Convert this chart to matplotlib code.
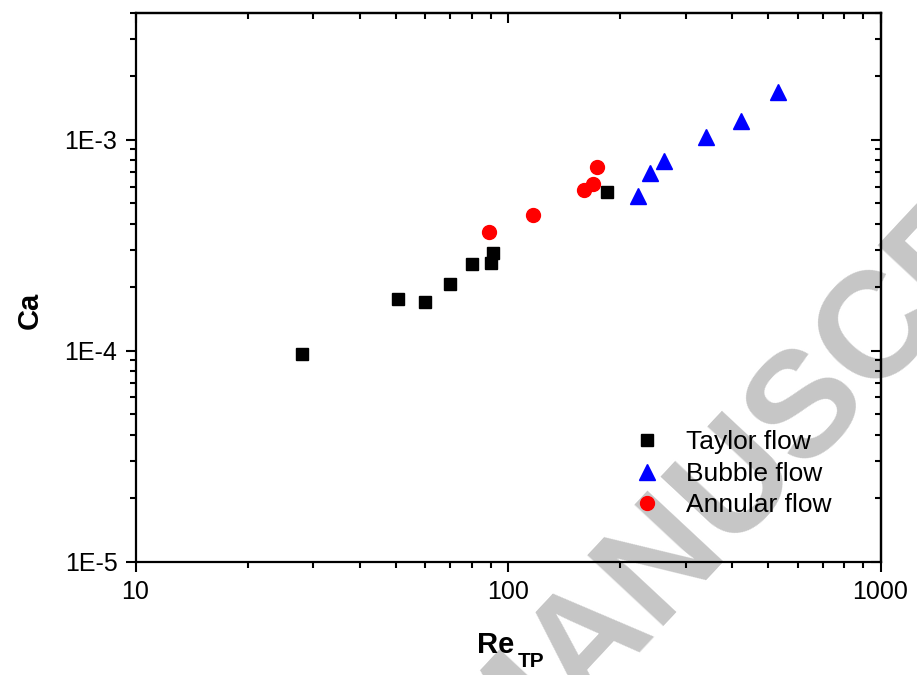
"""Ca vs Re_TP, flow regimes on log-log axes."""

import matplotlib

matplotlib.use("Agg")
import matplotlib.pyplot as plt
from matplotlib.ticker import FixedLocator, FixedFormatter, LogLocator, NullFormatter

plt.rcParams["font.family"] = ["Liberation Sans", "DejaVu Sans"]

# data
taylor_re = [27.9, 50.8, 59.8, 69.7, 79.9, 89.9, 91.0, 184.9]
taylor_ca = [9.6e-5, 1.75e-4, 1.70e-4, 2.08e-4, 2.57e-4, 2.61e-4, 2.90e-4, 5.65e-4]

bubble_re = [223, 241, 262, 340, 423, 532]
bubble_ca = [5.42e-4, 6.95e-4, 7.94e-4, 1.03e-3, 1.23e-3, 1.68e-3]

annular_re = [88.7, 117, 159.6, 169, 173.8]
annular_ca = [3.66e-4, 4.38e-4, 5.79e-4, 6.16e-4, 7.41e-4]

x_ticks = [10, 100, 1000]
x_tick_labels = ["10", "100", "1000"]
y_ticks = [1e-5, 1e-4, 1e-3]
y_tick_labels = ["1E-5", "1E-4", "1E-3"]

fig = plt.figure(figsize=(9.17, 6.75), dpi=100)
ax = fig.add_axes([0.1478, 0.1681, 0.8124, 0.8130])
ax.set_facecolor("none")

# watermark behind everything
fig.text(0.5613, -0.0785, "ACCEPTED MANUSCRIPT", fontsize=108, fontweight="bold",
         color="#c6c6c6", rotation=47, rotation_mode="anchor",
         ha="center", va="center", zorder=-1)

ax.plot(taylor_re, taylor_ca, ls="none", marker="s", ms=8.8, color="black",
        mec="black", label="Taylor flow")
ax.plot(bubble_re, bubble_ca, ls="none", marker="^", ms=11, color="blue",
        mec="blue", label="Bubble flow")
ax.plot(annular_re, annular_ca, ls="none", marker="o", ms=10, color="red",
        mec="red", label="Annular flow")

ax.set_xscale("log")
ax.set_yscale("log")
ax.set_xlim(10, 1000)
ax.set_ylim(1e-5, 4e-3)

ax.xaxis.set_major_locator(FixedLocator(x_ticks))
ax.xaxis.set_major_formatter(FixedFormatter(x_tick_labels))
ax.yaxis.set_major_locator(FixedLocator(y_ticks))
ax.yaxis.set_major_formatter(FixedFormatter(y_tick_labels))
for axis in (ax.xaxis, ax.yaxis):
    axis.set_minor_locator(LogLocator(base=10, subs=range(2, 10)))
    axis.set_minor_formatter(NullFormatter())

for sp in ax.spines.values():
    sp.set_linewidth(1.6)

ax.tick_params(which="major", direction="out", length=7, width=1.5,
               labelsize=18, pad=6)
ax.tick_params(which="minor", direction="out", length=4, width=1.5)

# mirrored ticks on top/right point inward
top = ax.secondary_xaxis("top")
top.xaxis.set_major_locator(FixedLocator(x_ticks))
top.xaxis.set_minor_locator(LogLocator(base=10, subs=range(2, 10)))
top.tick_params(which="both", direction="in", labeltop=False, width=1.5)
top.tick_params(which="major", length=7)
top.tick_params(which="minor", length=4)
top.spines["top"].set_linewidth(1.6)

right = ax.secondary_yaxis("right")
right.yaxis.set_major_locator(FixedLocator(y_ticks))
right.yaxis.set_minor_locator(LogLocator(base=10, subs=range(2, 10)))
right.tick_params(which="both", direction="in", labelright=False, width=1.5)
right.tick_params(which="major", length=7)
right.tick_params(which="minor", length=4)
right.spines["right"].set_linewidth(1.6)

# x label: "Re" with a bold subscript "TP"
fig.text(0.520, 0.0326, "Re", fontsize=21, fontweight="bold",
         ha="left", va="baseline")
fig.text(0.565, 0.0119, "TP", fontsize=15, fontweight="bold",
         ha="left", va="baseline")

ax.set_ylabel("Ca", fontsize=21, fontweight="bold")
ax.yaxis.set_label_coords(-0.123, 0.458)

ax.legend(loc="upper left", bbox_to_anchor=(0.6693, 0.2395), frameon=False,
          fontsize=19, handlelength=1.0, handletextpad=0.95,
          labelspacing=0.29, borderpad=0, borderaxespad=0)

fig.savefig("out.png", dpi=100)
